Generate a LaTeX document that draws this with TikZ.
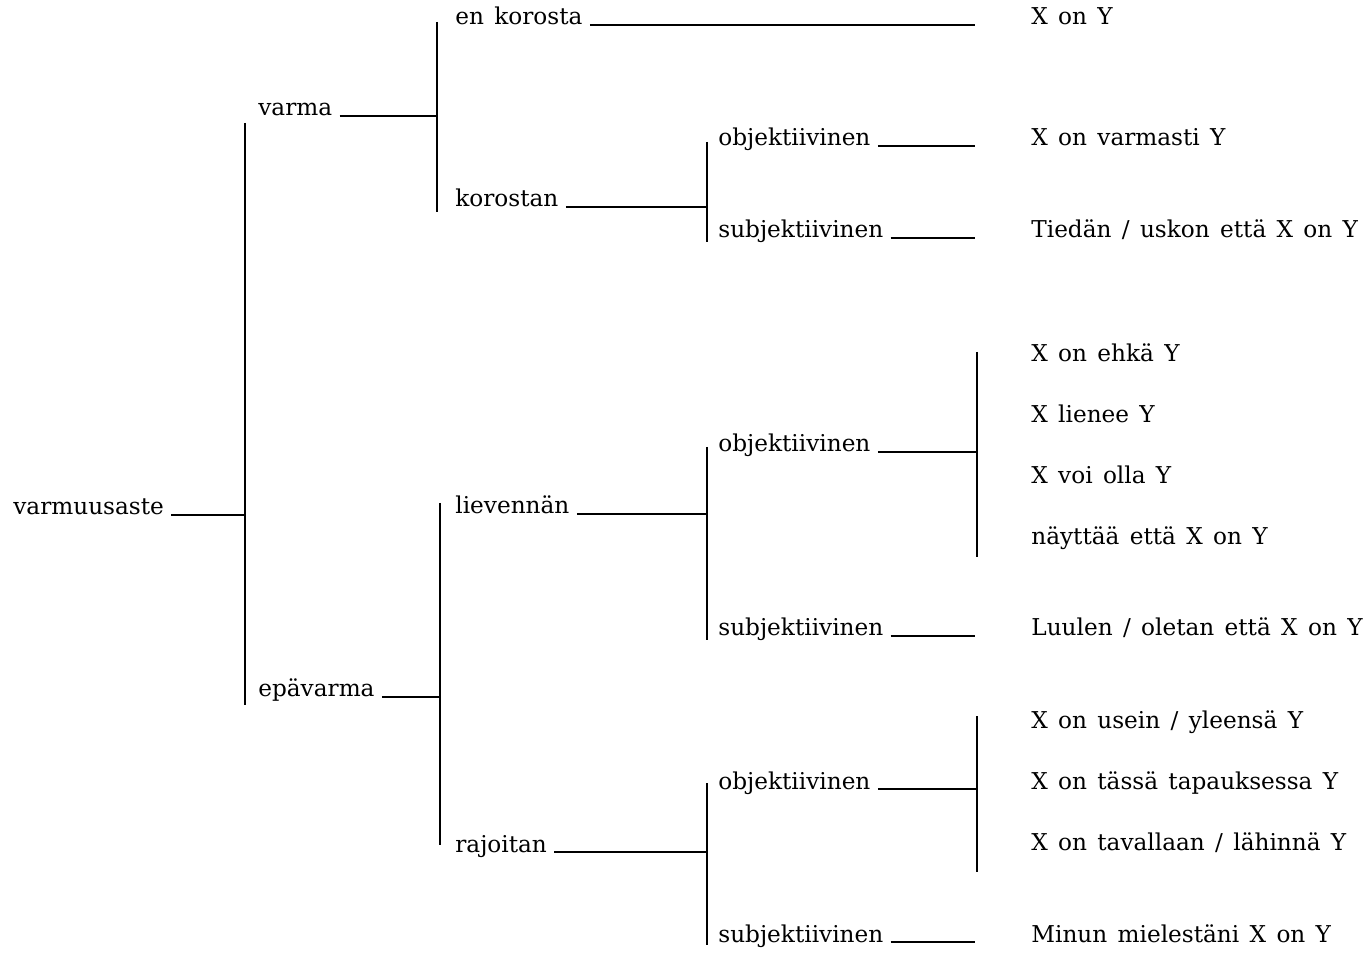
\documentclass[tikz,border=0pt]{standalone}
\usepackage{fontspec}
\setmainfont[WordSpace=1.4]{DejaVu Serif}
\usetikzlibrary{positioning}

\tikzset{
	term/.style={anchor=base west, inner sep=0pt, font=\fontsize{13.2}{16}\selectfont},
	branch/.style={line width=1.1pt},
	lead/.style={branch, shorten <=4pt},
}

\begin{document}
\begin{tikzpicture}[x=0.02cm, y=-0.02cm]
\useasboundingbox (0,0) rectangle (1369,955);

%----------TERMS-------------%
\node[term] (root) at (13,515) {varmuusaste};

\node[term] (varma) at (258,116) {varma};
\node[term] (epavarma) at (258,697) {epävarma};

\node[term] (enkor) at (455,25) {en korosta};
\node[term] (kor) at (455,207) {korostan};
\node[term] (liev) at (455,514) {lievennän};
\node[term] (raj) at (455,852) {rajoitan};

\node[term] (korobj) at (718,146) {objektiivinen};
\node[term] (korsubj) at (718,238) {subjektiivinen};
\node[term] (lievobj) at (718,452) {objektiivinen};
\node[term] (lievsubj) at (718,636) {subjektiivinen};
\node[term] (rajobj) at (718,789) {objektiivinen};
\node[term] (rajsubj) at (718,942) {subjektiivinen};

%----------EXAMPLES-------------%
\node[term] (e1) at (1031,25) {X on Y};
\node[term] (e2) at (1031,146) {X on varmasti Y};
\node[term] (e3) at (1031,238) {Tiedän / uskon että X on Y};
\node[term] (e4) at (1031,362) {X on ehkä Y};
\node[term] (e5) at (1031,423) {X lienee Y};
\node[term] (e6) at (1031,484) {X voi olla Y};
\node[term] (e7) at (1031,545) {näyttää että X on Y};
\node[term] (e8) at (1031,636) {Luulen / oletan että X on Y};
\node[term] (e9) at (1031,728) {X on usein / yleensä Y};
\node[term] (e10) at (1031,789) {X on tässä tapauksessa Y};
\node[term] (e11) at (1031,850) {X on tavallaan / lähinnä Y};
\node[term] (e12) at (1031,942) {Minun mielestäni X on Y};

%----------BRACKETS-------------%
\coordinate (b0) at (245,123);  \coordinate (b0end) at (245,705);
\coordinate (b1) at (437,22);   \coordinate (b1end) at (437,212);
\coordinate (b2) at (440,503);  \coordinate (b2end) at (440,845);
\coordinate (b3) at (707,142);  \coordinate (b3end) at (707,242);
\coordinate (b4) at (707,447);  \coordinate (b4end) at (707,640);
\coordinate (b5) at (707,783);  \coordinate (b5end) at (707,945);
\coordinate (b6) at (977,352);  \coordinate (b6end) at (977,557);
\coordinate (b7) at (977,716);  \coordinate (b7end) at (977,872);
\coordinate (stop) at (975,0);

\foreach \b in {0,...,7}
	\draw[branch] (b\b) -- (b\b end);

%----------LINKS-------------%
\draw[lead] (root.base east) -- (root.base east -| b0);
\draw[lead] (varma.base east) -- (varma.base east -| b1);
\draw[lead] (epavarma.base east) -- (epavarma.base east -| b2);
\draw[lead] (kor.base east) -- (kor.base east -| b3);
\draw[lead] (liev.base east) -- (liev.base east -| b4);
\draw[lead] (raj.base east) -- (raj.base east -| b5);
\draw[lead] (lievobj.base east) -- (lievobj.base east -| b6);
\draw[lead] (rajobj.base east) -- (rajobj.base east -| b7);

\draw[lead] (enkor.base east) -- (enkor.base east -| stop);
\draw[lead] (korobj.base east) -- (korobj.base east -| stop);
\draw[lead] (korsubj.base east) -- (korsubj.base east -| stop);
\draw[lead] (lievsubj.base east) -- (lievsubj.base east -| stop);
\draw[lead] (rajsubj.base east) -- (rajsubj.base east -| stop);

\end{tikzpicture}
\end{document}
